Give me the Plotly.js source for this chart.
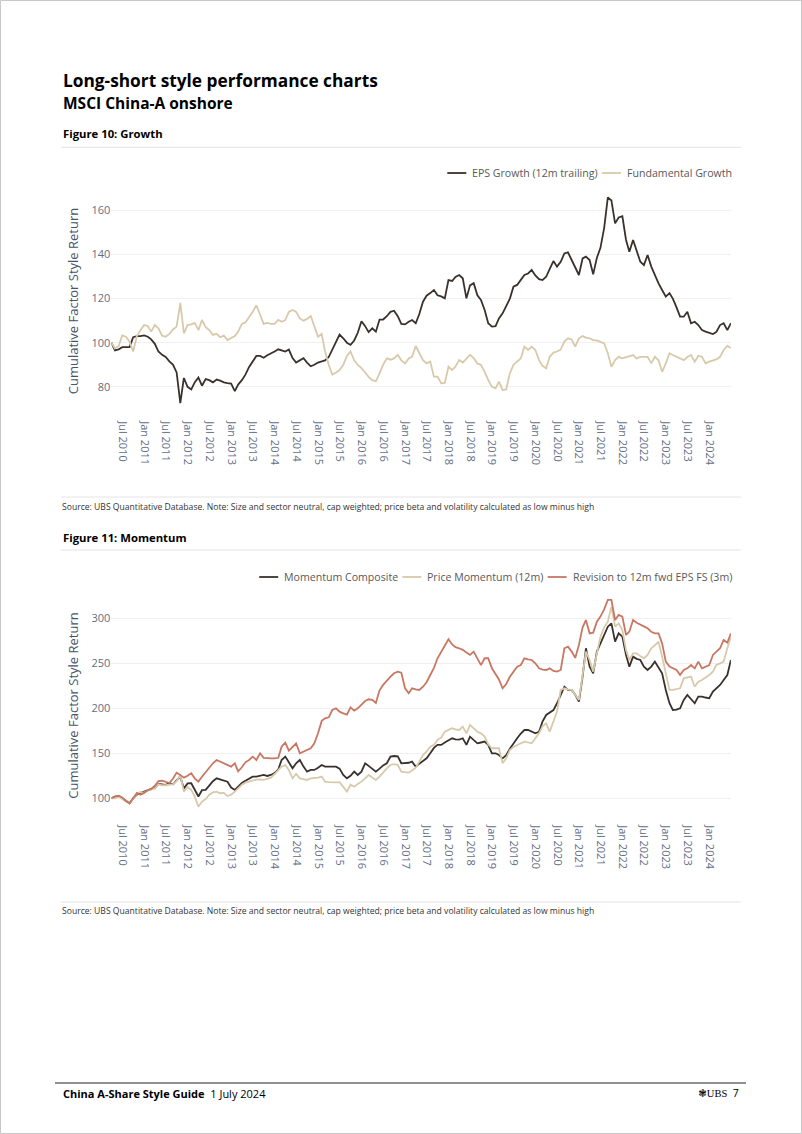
<!DOCTYPE html>
<html>
<head>
<meta charset="utf-8">
<script src="https://cdn.plot.ly/plotly-3.0.1.min.js"></script>
<style>
  html, body { margin: 0; padding: 0; background: #ffffff; }
  #chart { width: 802px; height: 1134px; }
</style>
</head>
<body>
<div id="chart"></div>
<script>
// ---------------- DATA (monthly, month-end Mar 2010 .. Jun 2024) ----------------
const startYear = 2010, startMonth = 3;   // first observation month

// Figure 10: Growth
const epsGrowth = [
  100, 96.5, 97, 98, 98, 98, 102.5, 103, 103, 103.3, 102.7, 101.5,
  99.5, 96, 94.5, 93.5, 91.5, 90, 86.5, 72.6, 84, 80, 78.8, 82,
  84.2, 80.5, 83.5, 83, 82, 83.3, 82.8, 82, 81.7, 81.5, 78, 81,
  83, 85.5, 89, 91.5, 94, 94, 93.2, 94.3, 95, 96, 97, 96.5,
  96, 96.9, 93, 91, 92, 93, 91, 89.3, 90, 91, 91.5, 92,
  93.5, 97, 100.5, 103.7, 102, 100, 99, 101, 104.5, 109.7, 107.5, 104.8,
  106.5, 105, 110.5, 110.5, 112, 114, 114.5, 112, 108.5, 108.3, 109.5, 110.3,
  108.8, 113, 118.6, 121.3, 122.5, 123.9, 121.5, 121, 120.1, 128.4, 128, 129.8,
  130.7, 129.2, 120.1, 126, 127, 121.5, 119.4, 114.8, 108.8, 107.3, 107.5, 111,
  113.3, 117, 120, 125.4, 126.2, 128.5, 130.7, 131.4, 133, 130.5, 128.8, 128.4,
  129.9, 133.5, 137, 134.5, 136.7, 140.5, 141, 137.5, 134.5, 130.7, 138.2, 139,
  137.5, 131, 138.5, 143, 152, 165.9, 164.5, 154.1, 156.8, 157.4, 146.6, 141.3,
  146.6, 142, 136.7, 135.2, 139.8, 134.5, 130.7, 126.9, 123.9, 120.9, 122.5, 120,
  116, 111.8, 111.8, 114, 108.8, 109.5, 108, 105.7, 105, 104.3, 103.9, 104.9,
  108, 108.8, 105.7, 108.8
];
const fundamentalGrowth = [
  100, 97.4, 98.5, 103.3, 102.7, 100.5, 96, 103, 105.7, 108, 107.6, 105,
  108, 106.5, 103.2, 102.7, 104, 106, 107.3, 118, 104.2, 108, 108.3, 109,
  105.7, 110.3, 107, 105.8, 103.5, 104, 102.5, 103.2, 101.2, 102, 103, 105,
  108.5, 109.2, 111.5, 114, 117, 113, 108.5, 109, 108.5, 108.5, 110.3, 109.5,
  110.3, 114, 114.8, 114, 111, 110, 110.8, 112.1, 107.3, 102.7, 104, 96,
  90, 85.5, 86.5, 87.6, 90, 94, 96, 92, 89.9, 88.5, 86.5, 84.5,
  83, 82.5, 86.1, 90, 92.9, 92.3, 92.9, 94.5, 92, 90.6, 92.9, 93.6,
  98.5, 95.2, 92.1, 90.6, 91.4, 84.6, 84.6, 81.6, 81.8, 89.1, 87.6, 89.2,
  92.1, 91, 92.9, 94.5, 93, 90.6, 89.9, 86.8, 83, 80, 79.3, 82.3,
  78.5, 78.8, 86.1, 89.9, 91.5, 92.9, 98.2, 96.7, 98.2, 96.7, 92.1, 89.5,
  88.4, 93.6, 95.5, 96, 96.9, 100.5, 102, 101.5, 98.2, 102, 103, 102.3,
  102, 101.2, 101, 100.5, 99.7, 95.2, 89.1, 92.1, 93.6, 92.9, 93.5, 93.9,
  94.4, 92.9, 93.6, 93.6, 93.6, 90.6, 93.6, 92, 86.8, 90.6, 95.2, 94.4,
  93.6, 93, 92.1, 93.5, 94.4, 91.4, 94.1, 93.6, 90.6, 91.4, 92, 92.4,
  93.6, 96.7, 98.5, 97.6
];

// Figure 11: Momentum
const momentumComposite = [
  100, 102, 102.6, 100, 97, 94.4, 100, 104, 106, 107.4, 108.5, 110,
  111.5, 116, 115.5, 115, 116.7, 115.5, 120, 124, 111, 116.5, 116.7, 109.3,
  102, 109, 109.3, 114, 119, 122.2, 121, 120.4, 118.5, 112, 109.3, 113,
  117, 119.5, 122.2, 124.1, 124.1, 125.2, 125.9, 124.8, 125.9, 128, 132, 142.6,
  146.3, 140, 133.3, 138.9, 142.6, 135.2, 129.6, 131.5, 131.5, 134, 137, 135.2,
  135.2, 135.2, 135.2, 133, 126, 122.2, 125, 129.6, 125.9, 129.6, 138.9, 136,
  133, 129.6, 133, 136.5, 138.9, 146.3, 147, 146.5, 138.9, 138.9, 139.5, 140.7,
  135.2, 138.5, 141, 144.4, 150, 156, 159.3, 159.3, 162, 164.8, 166.7, 165.5,
  165.2, 166.7, 159.3, 168.5, 164.8, 161.1, 162, 163, 159.3, 150, 150, 148.1,
  144.4, 148, 155, 161.1, 166.7, 172, 175.9, 175.9, 174.1, 172.2, 174, 185.2,
  192.6, 195, 198, 205.6, 214.8, 224, 220.4, 220.4, 215, 207.4, 235.2, 266.7,
  246.3, 238.9, 263, 272.2, 282, 290.7, 294.4, 274.1, 283.3, 279.6, 259.3, 246.3,
  257.4, 255, 253.7, 246.3, 242.6, 246.3, 251.9, 245, 238.9, 220.4, 205.6, 198.1,
  198.5, 200, 209.3, 214.8, 210, 205.6, 213, 213, 212, 211.1, 218.5, 222,
  225.9, 231.5, 237, 253.7
];
const priceMomentum = [
  100, 100, 101.5, 99, 97, 94.4, 99.5, 105, 107, 106.3, 108.5, 109.5,
  111, 115.6, 114.5, 114.5, 114.8, 115.6, 119, 125.9, 107.4, 112.5, 109.3, 101.9,
  90.7, 96.3, 99, 104, 106.5, 107.4, 105.6, 106, 102.5, 104, 107.4, 111,
  115, 117.5, 118.5, 120, 120.8, 121.1, 120.4, 121.5, 123, 127, 131, 135.2,
  137, 131.5, 122.2, 127, 122.2, 121, 120.4, 122.2, 122.2, 123, 124.1, 118.5,
  118, 117.4, 117.6, 117.8, 113, 107.4, 115, 113, 116, 118.5, 122.2, 125.9,
  123, 120.4, 124.1, 129, 133.3, 137, 138, 137, 129.6, 129, 128.5, 131,
  134, 140.7, 148.1, 152, 157.4, 159.3, 165, 167.5, 174.1, 176, 177.8, 176.5,
  175.9, 179.6, 172.2, 181.5, 177.8, 174, 172.2, 168.5, 160, 155.6, 155.6, 155.6,
  138.9, 144.4, 153.7, 157, 159.3, 161.1, 163, 162, 161.1, 166.7, 172.2, 180,
  183.3, 174.1, 185.2, 196.3, 220.4, 222.2, 221, 220.4, 215, 209.3, 237, 263,
  253.7, 240.7, 261.1, 279.6, 290, 296.3, 313, 290.7, 294.4, 287, 264.8, 253.7,
  261.1, 261.1, 258, 255.6, 259.3, 266.7, 270, 274.1, 257.4, 237, 220.4, 220.4,
  221, 222.2, 233.3, 234, 235.2, 224, 229.6, 231.5, 234, 237, 240.7, 248.1,
  250, 251.9, 266.7, 279.6
];
const revisionEps = [
  100, 102, 103, 101, 97, 94.4, 100, 106, 104, 106, 109.3, 110.5,
  114, 119, 119.5, 118.5, 117, 122, 128.5, 126, 123, 125, 127.8, 122.2,
  118.5, 124, 129, 135, 138.9, 142.6, 140.7, 138.5, 137, 135.2, 138.9, 130,
  134.5, 140, 142.6, 146.3, 142.6, 150, 145, 144.4, 144.4, 144.4, 145, 157.4,
  161.9, 153, 157, 161, 150, 151.9, 153.5, 155.6, 161.1, 172.2, 186, 188.9,
  190, 198.1, 200, 196.3, 194.4, 193, 201, 197.4, 200, 204, 208.1, 210,
  209.5, 206, 220, 226, 231, 235.2, 238.9, 240.7, 239.6, 222.2, 216.7, 222.2,
  221, 220.4, 224, 229, 237, 245, 255.6, 263, 270, 276.7, 271, 268,
  266.7, 265, 262, 259.3, 263, 255.6, 248, 255.6, 255.6, 244.4, 238, 232,
  222.2, 227, 235, 240, 246.3, 248.1, 255.6, 254.5, 253.7, 250, 244.4, 243,
  242.6, 244.4, 241.5, 240.7, 242.6, 266.7, 268.5, 263, 256, 270.4, 290, 298.1,
  283.3, 284.1, 296.3, 301.9, 310, 320.4, 320.4, 298.1, 303.7, 301.9, 281.5, 285.2,
  298.1, 295, 292.6, 291, 288.9, 285, 283.3, 283.3, 272.2, 251.9, 246.3, 244.5,
  242.6, 237, 242.6, 244.4, 248.1, 244.4, 251.9, 244.4, 246, 248.1, 259.3, 263,
  266.7, 275.9, 272.9, 283.3
];

const growthNames = ['EPS Growth (12m trailing)', 'Fundamental Growth'];
const momentumNames = ['Momentum Composite', 'Price Momentum (12m)', 'Revision to 12m fwd EPS FS (3m)'];
const yTitle = 'Cumulative Factor Style Return';
const sourceText = 'Source: UBS Quantitative Database. Note: Size and sector neutral, cap weighted; price beta and volatility calculated as low minus high';

// month-end dates (x categories)
const dates = [];
for (let i = 0; i < epsGrowth.length; i++) {
  const d = new Date(Date.UTC(startYear, startMonth + i, 0));
  dates.push(d.toISOString().slice(0, 10));
}

// ---------------- STYLE ----------------
const W = 802, H = 1134;
const fx = x => x / W;
const fy = y => 1 - y / H;
const cDark = '#3a312d', cBeige = '#d8c9ab', cRed = '#c87762';
const tickColor = '#5f6e86', titleColor = '#44546a', legendColor = '#595959';
const FONT = 'Open Sans, Noto Sans, sans-serif';
const LEGEND_SIZE = 10.6;

const traces = [
  {x: dates, y: epsGrowth, name: growthNames[0], type: 'scatter', mode: 'lines',
   line: {color: cDark, width: 1.8}, xaxis: 'x', yaxis: 'y'},
  {x: dates, y: fundamentalGrowth, name: growthNames[1], type: 'scatter', mode: 'lines',
   line: {color: cBeige, width: 1.8}, xaxis: 'x', yaxis: 'y'},
  {x: dates, y: momentumComposite, name: momentumNames[0], type: 'scatter', mode: 'lines',
   line: {color: cDark, width: 1.8}, xaxis: 'x2', yaxis: 'y2'},
  {x: dates, y: priceMomentum, name: momentumNames[1], type: 'scatter', mode: 'lines',
   line: {color: cBeige, width: 1.8}, xaxis: 'x2', yaxis: 'y2'},
  {x: dates, y: revisionEps, name: momentumNames[2], type: 'scatter', mode: 'lines',
   line: {color: cRed, width: 1.8}, xaxis: 'x2', yaxis: 'y2'}
];

const xDomain = [fx(111.4), fx(730.9)];
function xAxis(anchor) {
  return {
    domain: xDomain, anchor: anchor, type: 'date',
    tick0: '2010-07-01', dtick: 'M6', tickformat: '%b %Y', tickangle: 90,
    tickfont: {family: FONT, size: 11, color: tickColor},
    ticks: 'outside', ticklen: 6, tickcolor: 'rgba(0,0,0,0)',
    showgrid: false, zeroline: false, showline: false
  };
}
function yAxis(anchor, domain, range, dtick) {
  return {
    domain: domain, anchor: anchor, range: range, dtick: dtick, tick0: 0,
    tickfont: {family: FONT, size: 11, color: tickColor},
    gridcolor: '#f0f0f0', gridwidth: 1, zeroline: false, showline: false,
    title: {text: yTitle, font: {family: FONT, size: 13, color: titleColor}, standoff: 9}
  };
}

function txt(x, y, text, size, opts) {
  return Object.assign({
    xref: 'paper', yref: 'paper', x: fx(x), y: fy(y), xanchor: 'left', yanchor: 'middle',
    text: text, showarrow: false, align: 'left',
    font: {family: FONT, size: size, color: '#000000'}
  }, opts || {});
}
function hline(x0, x1, y, color, width) {
  return {type: 'line', xref: 'paper', yref: 'paper', x0: fx(x0), x1: fx(x1), y0: fy(y), y1: fy(y),
          line: {color: color, width: width}};
}

// ---- legends (line swatch + label), right-aligned at the plot's right edge ----
const measureCtx = document.createElement('canvas').getContext('2d');
measureCtx.font = LEGEND_SIZE + 'px "Open Sans"';
const legendGroups = [
  {y: 173, names: growthNames, colors: [cDark, cBeige]},
  {y: 577, names: momentumNames, colors: [cDark, cBeige, cRed]}
];
const legendShapes = [], legendTexts = [];
legendGroups.forEach(g => {
  let right = 731;
  for (let i = g.names.length - 1; i >= 0; i--) {
    const w = measureCtx.measureText(g.names[i]).width;
    const textStart = right - w;
    const symEnd = textStart - 5;
    const symStart = symEnd - 19;
    legendShapes.push(hline(symStart, symEnd, g.y, g.colors[i], 1.8));
    legendTexts.push(txt(textStart, g.y, g.names[i], LEGEND_SIZE,
      {borderpad: 0, font: {family: FONT, size: LEGEND_SIZE, color: legendColor}}));
    right = symStart - 5;
  }
});

const layout = {
  width: W, height: H,
  margin: {l: 0, r: 0, t: 0, b: 0},
  paper_bgcolor: '#ffffff', plot_bgcolor: '#ffffff',
  font: {family: FONT, color: tickColor},
  showlegend: false,
  xaxis: xAxis('y'),
  yaxis: yAxis('x', [fy(412), fy(190)], [68.57, 169.25], 20),
  xaxis2: xAxis('y2'),
  yaxis2: yAxis('x2', [fy(816), fy(595)], [80.33, 325.9], 50),
  annotations: [
    txt(61, 80, '<b>Long-short style performance charts</b>', 17.3),
    txt(61, 103.3, '<b>MSCI China-A onshore</b>', 15.5),
    txt(61, 133.9, '<b>Figure 10: Growth</b>', 11.3),
    txt(60, 507, sourceText, 8.6, {font: {family: FONT, size: 8.6, color: '#333333'}}),
    txt(61, 537.1, '<b>Figure 11: Momentum</b>', 11.3),
    txt(60, 911, sourceText, 8.6, {font: {family: FONT, size: 8.6, color: '#333333'}}),
    txt(61, 1093, '<b>China A-Share Style Guide</b>  1 July 2024', 11),
    txt(741, 1093, '<span style="font-family:DejaVu Sans">❃</span><span style="font-family:Liberation Serif">UBS</span>  7', 10.5, {xanchor: 'right'})
  ].concat(legendTexts),
  shapes: [
    hline(61, 741, 147.3, '#e4e4e4', 1),
    hline(61, 741, 497, '#e4e4e4', 1),
    hline(61, 741, 550, '#e4e4e4', 1),
    hline(61, 741, 902, '#e4e4e4', 1),
    hline(55, 746, 1083, '#222222', 1),
    {type: 'rect', xref: 'paper', yref: 'paper', x0: fx(0.5), x1: fx(801.5), y0: fy(1133.5), y1: fy(0.5),
     line: {color: '#c8c8c8', width: 1}}
  ].concat(legendShapes)
};

Plotly.newPlot('chart', traces, layout, {displayModeBar: false, responsive: false});
</script>
</body>
</html>
